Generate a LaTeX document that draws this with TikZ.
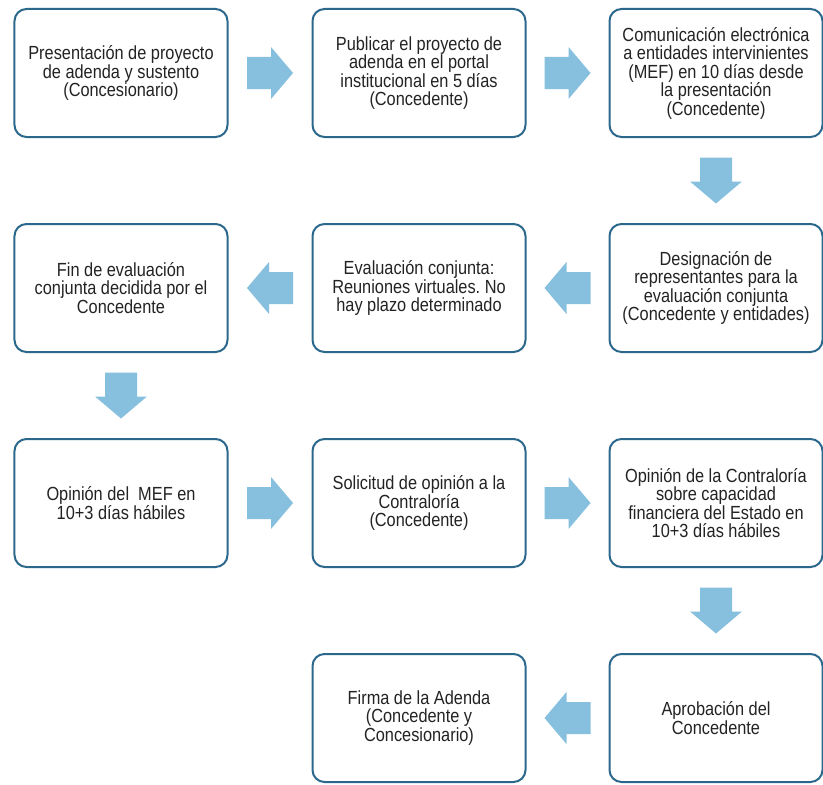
\documentclass[tikz,border=0pt]{standalone}
\usepackage{fontspec}
\setmainfont[FakeStretch=0.86]{Liberation Sans}
\usepackage{tikz}
\usetikzlibrary{calc}
\definecolor{boxline}{RGB}{44,104,140}
\definecolor{flowblue}{RGB}{135,192,222}
\definecolor{boxtext}{RGB}{35,35,35}
\frenchspacing

\begin{document}
\begin{tikzpicture}[x=1bp, y=-1bp,
        etapa/.style={draw=boxline, line width=2bp, rounded corners=12bp, fill=white,
            minimum width=213bp, minimum height=128bp, align=center, text=boxtext,
            font=\fontsize{19bp}{18.5bp}\selectfont, inner sep=0pt},
        flecha/.style={fill=flowblue}]
        \useasboundingbox (0,0) rectangle (823,785);

        % fila 1
        \node [etapa] (p1) at (121,73) {Presentación de proyecto\\de adenda y sustento\\(Concesionario)};
        \node [etapa] (p2) at (419,73) {Publicar el proyecto de\\adenda en el portal\\institucional en 5 días\\(Concedente)};
        \node [etapa] (p3) at (716,73) {Comunicación electrónica\\a entidades intervinientes\\(MEF) en 10 días desde\\la presentación\\(Concedente)};
        % fila 2
        \node [etapa] (p4) at (716,288) {Designación de\\representantes para la\\evaluación conjunta\\(Concedente y entidades)};
        \node [etapa] (p5) at (419,288) {Evaluación conjunta:\\Reuniones virtuales. No\\hay plazo determinado};
        \node [etapa] (p6) at (121,288) {Fin de evaluación\\conjunta decidida por el\\Concedente};
        % fila 3
        \node [etapa] (p7) at (121,503) {Opinión del\ \ MEF en\\10+3 días hábiles};
        \node [etapa] (p8) at (419,503) {Solicitud de opinión a la\\Contraloría\\(Concedente)};
        \node [etapa] (p9) at (716,503) {Opinión de la Contraloría\\sobre capacidad\\financiera del Estado en\\10+3 días hábiles};
        % fila 4
        \node [etapa] (p10) at (716,718) {Aprobación del\\Concedente};
        \node [etapa] (p11) at (419,718) {Firma de la Adenda\\(Concedente y\\Concesionario)};

        % flechas de bloque entre etapas
        \foreach \a/\b in {p1/p2, p2/p3, p3/p4, p4/p5, p5/p6, p6/p7, p7/p8, p8/p9, p9/p10, p10/p11} {
            \coordinate (m) at ($(\a)!0.5!(\b)$);
            \coordinate (t) at ($(m)!-23bp!(\b)$);
            \coordinate (s) at ($(m)!1bp!(\b)$);
            \coordinate (k) at ($(m)!23bp!(\b)$);
            \fill [flecha] ($(t)!16bp!90:(\b)$) -- ($(s)!16bp!90:(\b)$) -- ($(s)!26bp!90:(\b)$)
                -- (k) -- ($(s)!26bp!-90:(\b)$) -- ($(s)!16bp!-90:(\b)$) -- ($(t)!16bp!-90:(\b)$) -- cycle;
        }
\end{tikzpicture}
\end{document}
